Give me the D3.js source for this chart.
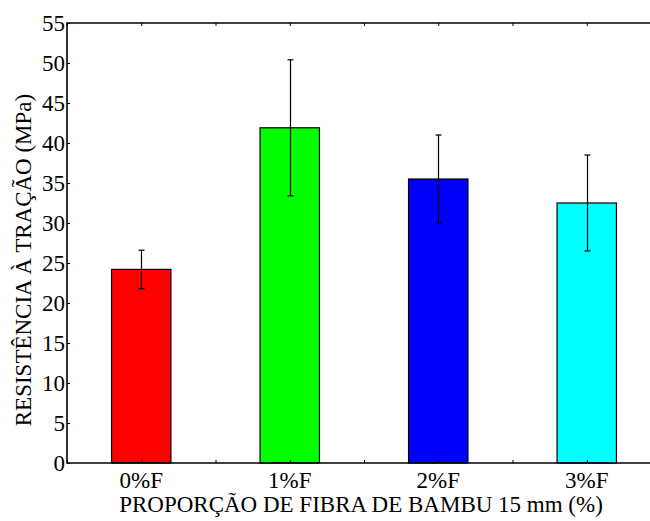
<!DOCTYPE html>
<html>
<head>
<meta charset="utf-8">
<script src="https://cdn.jsdelivr.net/npm/d3@7"></script>
<style>
  html, body { margin: 0; padding: 0; background: #fff; }
  svg { display: block; }
</style>
</head>
<body>
<svg id="chart" width="650" height="521"></svg>
<script>
// Tensile strength by bamboo fibre content (15 mm fibres)
const categories = ["0%F", "1%F", "2%F", "3%F"];
const means = [24.2, 41.9, 35.5, 32.5];
const errors = [2.4, 8.5, 5.5, 6.0];
const colors = ["#ff0000", "#00ff00", "#0000ff", "#00ffff"];
const yTicks = [0, 5, 10, 15, 20, 25, 30, 35, 40, 45, 50, 55];
const xTickPositions = [-0.5, 0, 0.5, 1, 1.5, 2, 2.5, 3, 3.5];

const serif = "'Liberation Serif', 'Times New Roman', 'DejaVu Serif', serif";
const svg = d3.select("#chart");
const plotLeft = 67, plotTop = 23, plotBottom = 463, plotRight = 661;

const x = d3.scaleLinear().domain([-0.5, 3.5]).range([plotLeft, plotRight]);
const y = d3.scaleLinear().domain([0, 55]).range([plotBottom, plotTop]);
const barW = x(0.4) - x(0);

// bars
svg.append("g").selectAll("rect")
  .data(means)
  .join("rect")
  .attr("x", (d, i) => x(i) - barW / 2)
  .attr("y", d => y(d))
  .attr("width", barW)
  .attr("height", d => y(0) - y(d))
  .attr("fill", (d, i) => colors[i])
  .attr("stroke", "#000")
  .attr("stroke-width", 1.2);

// error bars
const eb = svg.append("g").attr("stroke", "#000").attr("stroke-width", 1.2);
means.forEach((m, i) => {
  const cx = Math.round(x(i)) + 0.5;
  eb.append("line").attr("x1", cx).attr("x2", cx)
    .attr("y1", y(m + errors[i])).attr("y2", y(m - errors[i]));
  [m + errors[i], m - errors[i]].forEach(v => {
    eb.append("line").attr("x1", cx - 3).attr("x2", cx + 3)
      .attr("y1", y(v)).attr("y2", y(v));
  });
});

// frame
svg.append("path")
  .attr("d", `M${plotRight},${plotTop}H${plotLeft}V${plotBottom}H${plotRight}`)
  .attr("fill", "none").attr("stroke", "#000").attr("stroke-width", 1.6);

// inward ticks
const yAxis = d3.axisLeft(y).tickValues(yTicks).tickSizeInner(-3).tickSizeOuter(0).tickPadding(2);
const gy = svg.append("g").attr("transform", `translate(${plotLeft},0)`).call(yAxis);
gy.select(".domain").remove();
gy.attr("font-family", serif).attr("font-size", 23);
gy.selectAll("text").attr("fill", "#000").attr("dy", "0.34em");

const xAxis = d3.axisBottom(x).tickValues(xTickPositions).tickSizeInner(-3).tickSizeOuter(0).tickFormat("");
const gx = svg.append("g").attr("transform", `translate(0,${plotBottom})`).call(xAxis);
gx.select(".domain").remove();

const xTop = d3.axisTop(x).tickValues(xTickPositions).tickSizeInner(-3).tickSizeOuter(0).tickFormat("");
const gt = svg.append("g").attr("transform", `translate(0,${plotTop})`).call(xTop);
gt.select(".domain").remove();

// category labels
svg.append("g")
  .attr("font-family", serif).attr("font-size", 23)
  .selectAll("text")
  .data(categories)
  .join("text")
  .attr("x", (d, i) => x(i))
  .attr("y", 488)
  .attr("text-anchor", "middle")
  .text(d => d);

// axis titles
svg.append("text")
  .attr("font-family", serif).attr("font-size", 23)
  .attr("x", 361).attr("y", 512)
  .attr("text-anchor", "middle")
  .text("PROPORÇÃO DE FIBRA DE BAMBU 15 mm (%)");

svg.append("text")
  .attr("font-family", serif).attr("font-size", 23)
  .attr("transform", "translate(31,260) rotate(-90)")
  .attr("text-anchor", "middle")
  .text("RESISTÊNCIA À TRAÇÃO (MPa)");
</script>
</body>
</html>
